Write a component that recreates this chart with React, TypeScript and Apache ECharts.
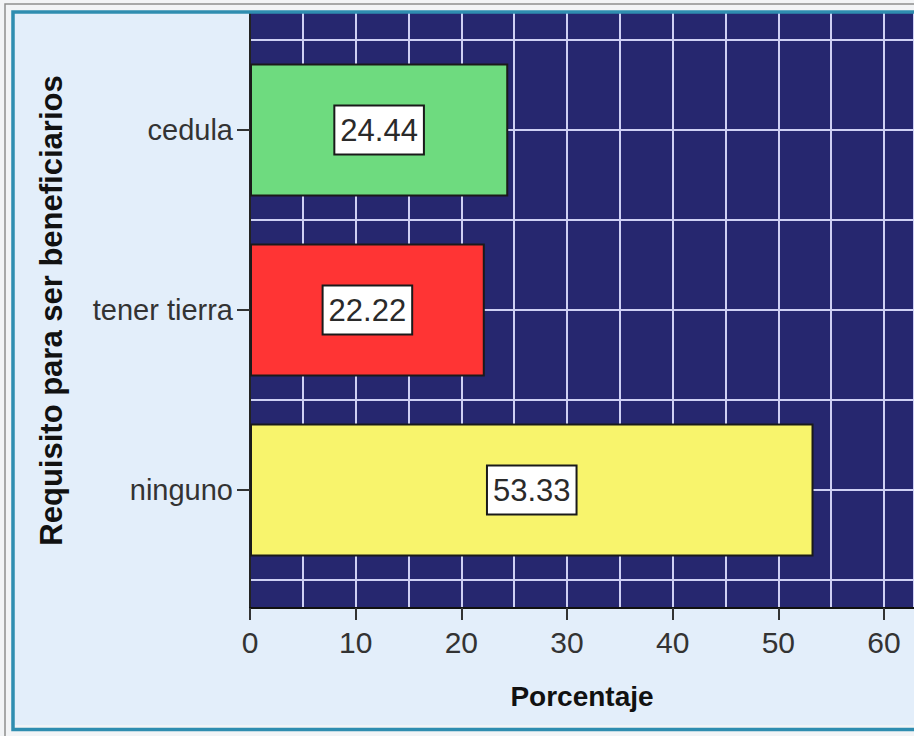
import React, { useEffect, useRef } from "react";
import * as echarts from "echarts";

const categories = ["cedula", "tener tierra", "ninguno"];
const percentages = [24.44, 22.22, 53.33];
const barColors = ["#6edb7f", "#ff3434", "#f8f46c"];
const xAxisTitle = "Porcentaje";
const yAxisTitle = "Requisito para ser beneficiarios";

const FONT = "'Liberation Sans', Arial, sans-serif";
const NAVY = "#26276f";
const GRIDLINE = "#cfd0f4";

export default function App() {
  const ref = useRef<HTMLDivElement>(null);
  useEffect(() => {
    if (!ref.current) return;
    const chart = echarts.init(ref.current, null, { renderer: "svg" });
    const xMax = 62.84;
    chart.setOption({
      animation: false,
      backgroundColor: "#e3eefa",
      grid: [
        { left: 250, top: 13, width: 664, height: 595, show: true, backgroundColor: NAVY, borderWidth: 0 },
        { left: 250, top: 40, width: 664, height: 540, show: false },
      ],
      xAxis: [
        {
          gridIndex: 0,
          type: "value",
          min: 0,
          max: xMax,
          interval: 10,
          name: xAxisTitle,
          nameLocation: "middle",
          nameGap: 74,
          nameTextStyle: { fontFamily: FONT, fontSize: 28, fontWeight: "bold", color: "#111" },
          axisLine: { show: true, lineStyle: { color: "#111", width: 2 } },
          axisTick: { show: true, length: 12, lineStyle: { color: "#333", width: 2 } },
          axisLabel: { fontFamily: FONT, fontSize: 30, color: "#333", margin: 19, showMaxLabel: false },
          splitLine: { show: true, lineStyle: { color: GRIDLINE, width: 2 } },
          minorTick: { show: false, splitNumber: 2 },
          minorSplitLine: { show: true, lineStyle: { color: GRIDLINE, width: 2 } },
        },
        { gridIndex: 1, type: "value", min: 0, max: xMax, show: false, splitLine: { show: false } },
      ],
      yAxis: [
        {
          gridIndex: 0,
          type: "value",
          min: 0,
          max: 1,
          name: yAxisTitle,
          nameLocation: "middle",
          nameGap: 183,
          nameRotate: 90,
          nameTextStyle: { fontFamily: FONT, fontSize: 31, fontWeight: "bold", color: "#111" },
          axisLine: { show: true, lineStyle: { color: "#222", width: 2 } },
          axisTick: { show: false },
          axisLabel: { show: false },
          splitLine: { show: false },
        },
        {
          gridIndex: 1,
          type: "category",
          inverse: true,
          data: categories,
          axisLine: { show: false },
          axisTick: { show: true, alignWithLabel: true, length: 13, lineStyle: { color: "#333", width: 2 } },
          axisLabel: { fontFamily: FONT, fontSize: 29, color: "#333", margin: 17 },
          splitLine: { show: false },
        },
        {
          gridIndex: 1,
          type: "value",
          min: 0,
          max: 6,
          interval: 1,
          inverse: true,
          axisLine: { show: false },
          axisTick: { show: false },
          axisLabel: { show: false },
          splitLine: { show: true, lineStyle: { color: GRIDLINE, width: 2 } },
        },
      ],
      series: [
        {
          type: "bar",
          xAxisIndex: 1,
          yAxisIndex: 1,
          barWidth: 133,
          data: percentages.map((v, i) => ({
            value: v,
            itemStyle: { color: barColors[i], borderColor: "#1a1a1a", borderWidth: 2 },
          })),
          label: {
            show: true,
            position: "inside",
            formatter: (p: any) => Number(p.value).toFixed(2),
            fontFamily: FONT,
            fontSize: 31,
            color: "#2a2a2a",
            backgroundColor: "#ffffff",
            borderColor: "#1a1a1a",
            borderWidth: 2,
            padding: [9, 5, 7, 5],
          },
        },
      ],
      graphic: [
        {
          type: "rect",
          z: 100,
          silent: true,
          shape: { x: 0, y: 0, width: 1000, height: 736 },
          style: { fill: "none", stroke: "#f2f4f6", lineWidth: 22 },
        },
        {
          type: "rect",
          z: 101,
          silent: true,
          shape: { x: 5, y: 4, width: 1000, height: 760 },
          style: { fill: "none", stroke: "#8e8e8e", lineWidth: 1.5 },
        },
        {
          type: "rect",
          z: 102,
          silent: true,
          shape: { x: 13, y: 12, width: 1000, height: 717.5 },
          style: { fill: "none", stroke: "#2f8db0", lineWidth: 3.5 },
        },
      ],
    });
    return () => chart.dispose();
  }, []);
  return (
    <div
      ref={ref}
      style={{ position: "fixed", left: 0, top: 0, width: 914, height: 736 }}
    />
  );
}
